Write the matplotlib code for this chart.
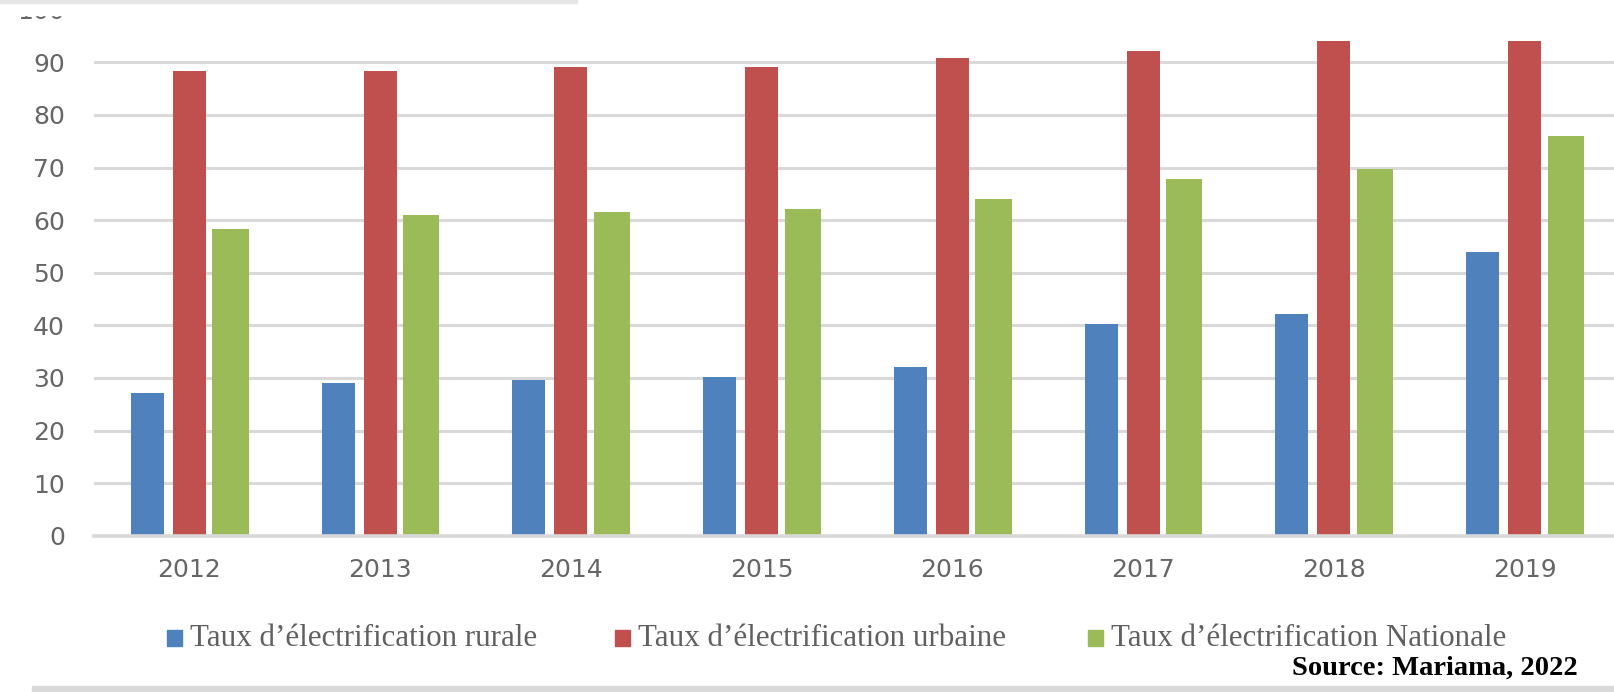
import matplotlib
matplotlib.use("Agg")
import matplotlib.pyplot as plt
from matplotlib.patches import Rectangle
import numpy as np

# data
years = ["2012", "2013", "2014", "2015", "2016", "2017", "2018", "2019"]
rural = [27.1, 29.0, 29.6, 30.2, 32.1, 40.2, 42.1, 53.9]
urban = [88.3, 88.3, 89.1, 89.1, 90.8, 92.1, 94.0, 94.0]
national = [58.3, 60.9, 61.5, 62.1, 64.1, 67.8, 69.7, 75.9]
labels = [
    "Taux d\u2019\u00e9lectrification rurale",
    "Taux d\u2019\u00e9lectrification urbaine",
    "Taux d\u2019\u00e9lectrification Nationale",
]
colors = ["#4f81bd", "#c0504d", "#9bbb59"]

W, H = 1615, 692
fig = plt.figure(figsize=(W / 100, H / 100), dpi=100)
ax = fig.add_axes([94 / W, (H - 535.7) / H, (1620 - 94) / W, 526 / H])

x = np.arange(len(years))
offsets = [-0.22, 0.0, 0.215]
widths = [0.173, 0.173, 0.19]
for vals, off, w, c in zip([rural, urban, national], offsets, widths, colors):
    ax.bar(x + off, vals, w, color=c, zorder=2)

ax.set_xlim(-0.5, 7.5)
ax.set_ylim(0, 100)
ax.set_yticks(range(0, 101, 10))
ax.set_xticks(x)
ax.set_xticklabels(years)
ax.grid(axis="y", color="#d9d9d9", linewidth=2.2, zorder=0)
ax.set_axisbelow(True)
for s in ["top", "right", "left"]:
    ax.spines[s].set_visible(False)
ax.spines["bottom"].set_color("#d9d9d9")
ax.spines["bottom"].set_linewidth(2.6)
ax.tick_params(axis="both", length=0, labelsize=18, labelcolor="#666666")
ax.tick_params(axis="y", pad=21)
ax.tick_params(axis="x", pad=16)

# legend drawn by hand to match the spacing of the original
sq_x = [167, 615, 1088]
for sx, lab, c in zip(sq_x, labels, colors):
    fig.add_artist(Rectangle((sx / W, (H - 646) / H), 15 / W, 16 / H,
                             color=c, transform=fig.transFigure))
    fig.text((sx + 23) / W, (H - 638) / H, lab, fontsize=22.3,
             family="Liberation Serif", color="#606060", va="center")

fig.text(1578 / W, (H - 675) / H, "Source: Mariama, 2022", fontsize=20.5,
         family="Liberation Serif", weight="bold", color="black",
         ha="right", va="baseline")

# white strip covering the top of the frame, thin grey border line
fig.add_artist(Rectangle((0, (H - 15) / H), 1, 15 / H, color="white",
                         transform=fig.transFigure, zorder=5))
fig.add_artist(Rectangle((0, (H - 3) / H), 577 / W, 3 / H, color="#e6e6e6",
                         transform=fig.transFigure, zorder=6))
fig.add_artist(Rectangle((32 / W, 0), 1, 6 / H, color="#d9d9d9",
                         transform=fig.transFigure, zorder=6))

fig.savefig("out.png", dpi=100)
plt.close(fig)
